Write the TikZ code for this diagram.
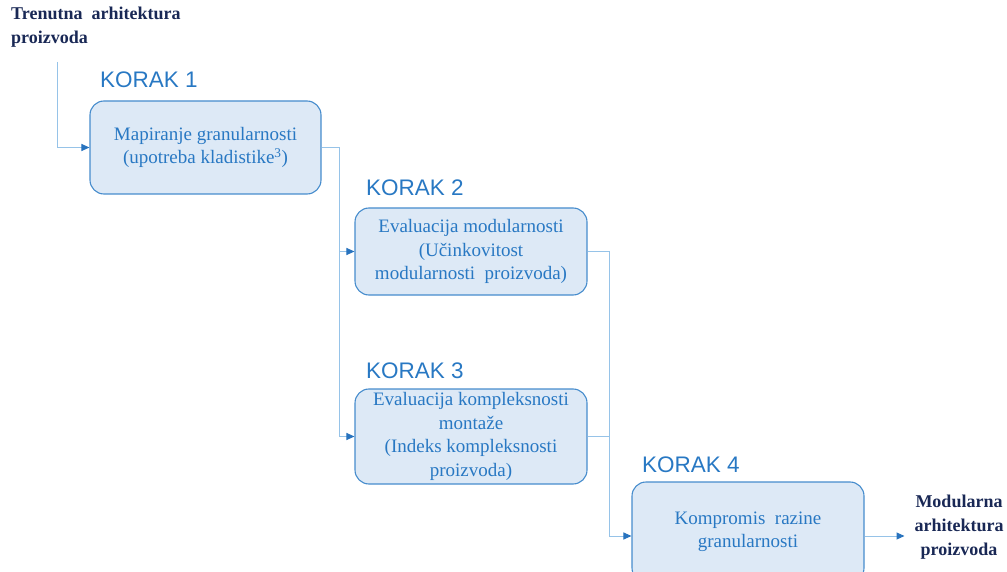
\documentclass[tikz,border=0pt]{standalone}
\usepackage{fontspec}
\setmainfont{Liberation Serif}
\newfontfamily\korakfont{Liberation Sans}
\usetikzlibrary{arrows.meta}
\definecolor{boxfill}{RGB}{221,233,246}
\definecolor{boxedge}{RGB}{70,140,205}
\definecolor{txtblue}{RGB}{40,120,195}
\definecolor{linkblue}{RGB}{150,195,232}
\definecolor{tipblue}{RGB}{40,115,190}
\definecolor{navy}{RGB}{25,40,85}
\tikzset{
  stepbox/.style={draw=boxedge, line width=1.1pt, fill=boxfill, rounded corners=14pt,
    text=txtblue, align=center, font=\fontsize{19}{23.5}\selectfont, inner sep=0pt},
  steplabel/.style={text=txtblue, font=\korakfont\fontsize{22.5}{24}\selectfont, anchor=base west, inner sep=0pt},
  endlabel/.style={text=navy, font=\bfseries\fontsize{18}{24}\selectfont, inner sep=0pt},
  link/.style={draw=linkblue, line width=1pt},
  arrowlink/.style={link, -{Triangle[length=8pt,width=7pt,fill=tipblue,color=tipblue]}},
}
\begin{document}
\begin{tikzpicture}[x=1pt,y=-1pt]
\useasboundingbox (0,0) rectangle (1007,572);

% process steps
\node[stepbox, minimum width=231pt, minimum height=93pt] (b1) at (205.5,147.5)
  {Mapiranje granularnosti\\(upotreba kladistike\textsuperscript{3})};
\node[stepbox, minimum width=232pt, minimum height=87pt] (b2) at (471,251.5)
  {Evaluacija modularnosti\\(Učinkovitost\\modularnosti\ \ proizvoda)};
\node[stepbox, minimum width=232pt, minimum height=95pt] (b3) at (471,436.5)
  {Evaluacija kompleksnosti\\montaže\\(Indeks kompleksnosti\\proizvoda)};
% the last step runs past the lower edge of the page
\node[stepbox, minimum width=232pt, minimum height=100pt] (b4) at (748,532)
  {Kompromis\ \ razine\\granularnosti};

% step titles
\node[steplabel] (k1) at (100,88) {KORAK 1};
\node[steplabel] (k2) at (366,196) {KORAK 2};
\node[steplabel] (k3) at (366,378) {KORAK 3};
\node[steplabel] (k4) at (642,472) {KORAK 4};

% input and output
\node[endlabel, anchor=north west, align=left] (inp) at (11,7)
  {Trenutna\ \ arhitektura\\proizvoda};
\node[endlabel, align=center, outer sep=10pt] (out) at (959,527)
  {Modularna\\arhitektura\\proizvoda};

% connectors: two vertical buses joining the steps
\coordinate (start) at (57,62);
\coordinate (bus1) at (339,0);
\coordinate (bus2) at (609,0);
\coordinate (in4) at ([yshift=-4pt]b4.west);
\coordinate (out4) at ([yshift=-4pt]b4.east);

\draw[arrowlink] (start) |- (b1.west);
\draw[link] (b1.east) -- (b1.east -| bus1) coordinate (j1);
\draw[arrowlink] (j1) |- (b2.west);
\draw[arrowlink] (j1) |- (b3.west);
\draw[link] (b2.east) -- (b2.east -| bus2) coordinate (j2);
\draw[link] (b3.east) -- (b3.east -| bus2);
\draw[arrowlink] (j2) |- (in4);
\draw[arrowlink] (out4) -- (out4 -| out.west);
\end{tikzpicture}
\end{document}
